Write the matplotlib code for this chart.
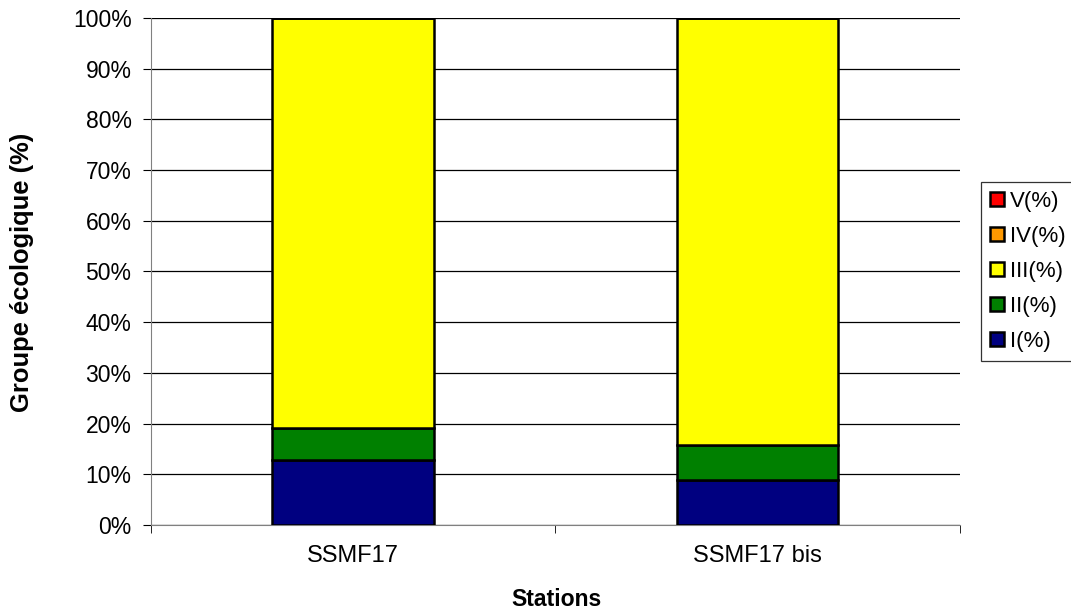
import numpy as np
import matplotlib.pyplot as plt
from matplotlib.ticker import PercentFormatter

plt.rcParams['font.family'] = ['Liberation Sans', 'DejaVu Sans']

stations = ["SSMF17", "SSMF17 bis"]
groupe_I = [12.8, 8.9]
groupe_II = [6.4, 6.9]
groupe_III = [80.8, 84.2]
groupe_IV = [0.0, 0.0]
groupe_V = [0.0, 0.0]

series = [("I(%)", groupe_I, "#000080"),
          ("II(%)", groupe_II, "#008000"),
          ("III(%)", groupe_III, "#FFFF00"),
          ("IV(%)", groupe_IV, "#FF9900"),
          ("V(%)", groupe_V, "#FF0000")]

fig = plt.figure(figsize=(10.71, 6.11), dpi=100)
ax = fig.add_axes([0.141, 0.1408, 0.755, 0.8297])

x = np.arange(len(stations))
bottom = np.zeros(len(stations))
handles = []
for label, vals, color in series:
    b = ax.bar(x, vals, width=0.4, bottom=bottom, color=color,
               edgecolor="black", linewidth=1.8, label=label, zorder=3)
    handles.append(b)
    bottom += np.array(vals)

ax.set_xlim(-0.5, 1.5)
ax.set_ylim(0, 100)
ax.set_yticks(np.arange(0, 101, 10))
ax.yaxis.set_major_formatter(PercentFormatter(decimals=0))
ax.set_xticks(x)
ax.set_xticklabels(stations)
ax.set_xticks([-0.5, 0.5, 1.5], minor=True)
ax.tick_params(axis="x", which="major", length=0, labelsize=17, pad=14.5)
ax.tick_params(axis="x", which="minor", length=6, direction="out")
ax.tick_params(axis="y", length=6, direction="out", labelsize=16.5, pad=8)
ax.yaxis.grid(True, color="black", linewidth=0.9, zorder=0)
for s in ["top", "right"]:
    ax.spines[s].set_visible(False)
ax.spines["left"].set_color("#808080")
ax.spines["bottom"].set_color("#808080")

fig.text(556 / 1071, 1 - 600 / 611, "Stations", fontsize=16.6,
         fontweight="bold", ha="center", va="center")
fig.text(22 / 1071, 1 - 272 / 611, "Groupe écologique (%)", fontsize=18.4,
         fontweight="bold", ha="center", va="center", rotation=90)

leg = ax.legend(handles[::-1], [s[0] for s in series][::-1],
                loc="center left", bbox_to_anchor=(1.026, 0.5),
                fontsize=16, frameon=True, fancybox=False, edgecolor="black",
                handlelength=0.63, handleheight=0.63, handletextpad=0.27,
                labelspacing=0.63, borderpad=0.4, borderaxespad=0)
leg.get_frame().set_linewidth(0.9)

fig.savefig("out.png", dpi=100)
